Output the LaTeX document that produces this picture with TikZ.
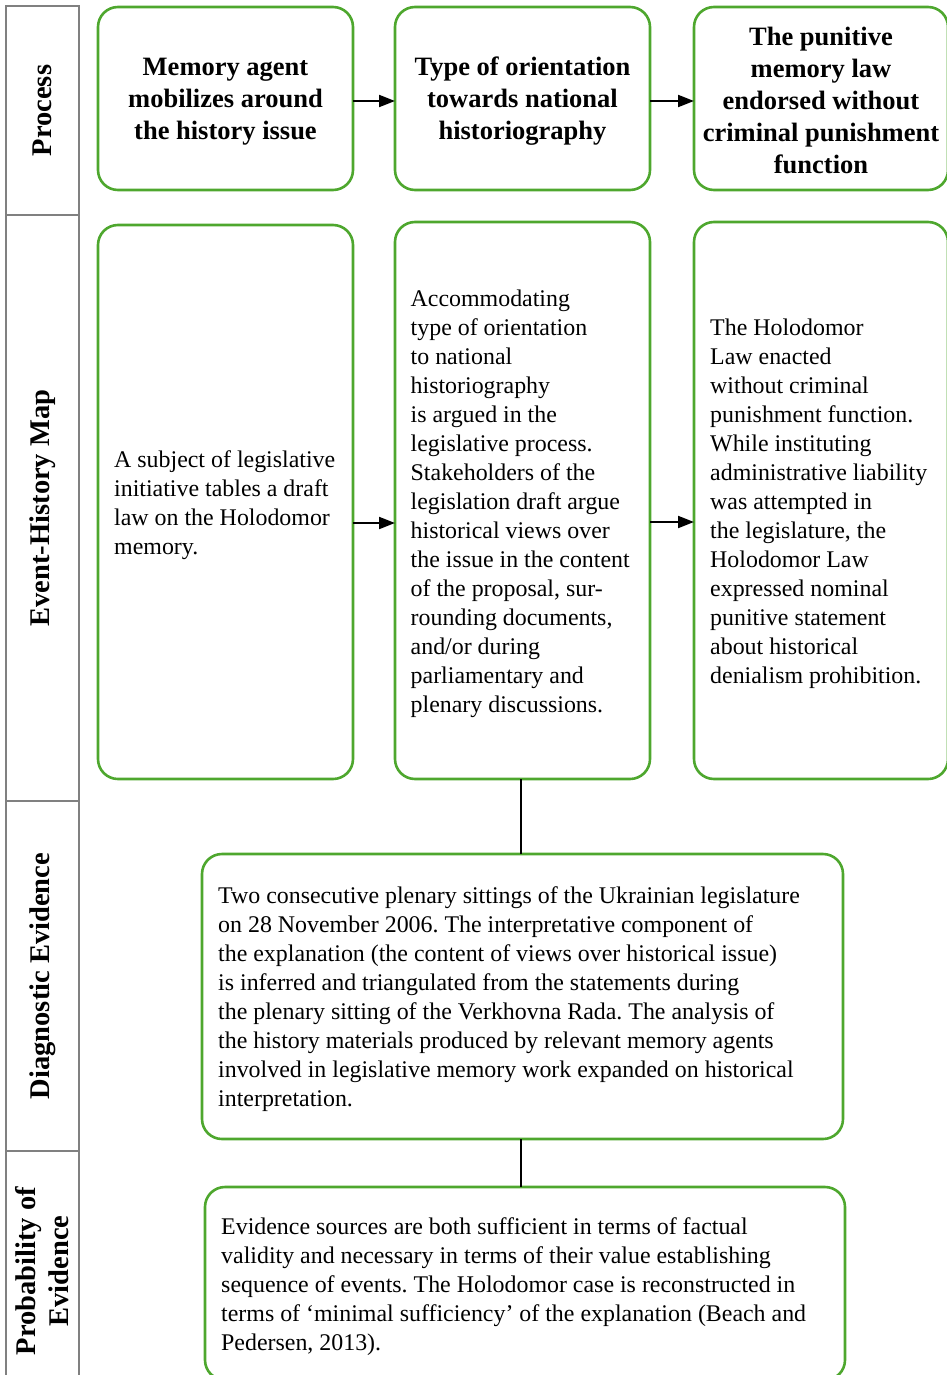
\documentclass[tikz,border=0pt]{standalone}
\usepackage{fontspec}
\setmainfont{Liberation Serif}
\usetikzlibrary{arrows.meta,calc}
\definecolor{boxgreen}{RGB}{78,167,46}
\definecolor{cellgray}{RGB}{128,128,128}
\frenchspacing
\begin{document}
\begin{tikzpicture}[x=1pt,y=-1pt,
  gbox/.style={draw=boxgreen,line width=2.6pt,rounded corners=20pt,inner sep=0pt,outer sep=0pt},
  ptext/.style={align=center,inner sep=0pt,font=\fontsize{26.5}{32}\selectfont\bfseries},
  btext/.style={align=left,inner sep=0pt,anchor=west,font=\fontsize{23.9}{29}\selectfont},
  cell/.style={draw=cellgray,line width=1.8pt,rotate=90,inner sep=0pt,align=center,
    font=\fontsize{28.5}{33}\selectfont\bfseries},
  arr/.style={-{Triangle[length=16pt,width=12pt]},line width=2pt,black},
  link/.style={line width=1.5pt,black}]
\useasboundingbox (0,0) rectangle (946,1375);
% left column
\node[cell,minimum width=209pt,minimum height=73pt] (c1) at (42.5,110.5) {Process};
\node[cell,minimum width=586pt,minimum height=73pt] (c2) at (42.5,508) {Event-History Map};
\node[cell,minimum width=350pt,minimum height=73pt] (c3) at (42.5,976) {Diagnostic Evidence};
\node[cell,minimum width=240pt,minimum height=73pt] (c4) at (42.5,1271) {Probability of\\Evidence};
% process row
\node[gbox,minimum width=255pt,minimum height=183pt] (p1) at (225.5,98.5) {};
\node[gbox,minimum width=255pt,minimum height=183pt] (p2) at (522.5,98.5) {};
\node[gbox,minimum width=254pt,minimum height=183pt] (p3) at (821,98.5) {};
\node[ptext] (pt1) at ([yshift=-3pt]p1.center) {Memory agent\\mobilizes around\\the history issue};
\node[ptext] (pt2) at ([yshift=-3pt]p2.center) {Type of orientation\\towards national\\historiography};
\node[ptext] (pt3) at ([yshift=-1.5pt]p3.center) {The punitive\\memory law\\endorsed without\\criminal punishment\\function};
% event row
\node[gbox,minimum width=255pt,minimum height=554pt] (e1) at (225.5,502) {};
\node[gbox,minimum width=255pt,minimum height=557pt] (e2) at (522.5,500.5) {};
\node[gbox,minimum width=254pt,minimum height=557pt] (e3) at (821,500.5) {};
\node[btext] (t1) at ([xshift=16pt,yshift=-3pt]e1.west) {A subject of legislative\\initiative tables a draft\\law on the Holodomor\\memory.};
\node[btext] (t2) at ([xshift=15.5pt,yshift=-3pt]e2.west) {Accommodating\\type of orientation\\to national\\historiography\\is argued in the\\legislative process.\\Stakeholders of the\\legislation draft argue\\historical views over\\the issue in the content\\of the proposal, sur-\\rounding documents,\\and/or during\\parliamentary and\\plenary discussions.};
\node[btext] (t3) at ([xshift=16pt,yshift=-3pt]e3.west) {The Holodomor\\Law enacted\\without criminal\\punishment function.\\While instituting\\administrative liability\\was attempted in\\the legislature, the\\Holodomor Law\\expressed nominal\\punitive statement\\about historical\\denialism prohibition.};
% diagnostic and probability
\node[gbox,minimum width=641pt,minimum height=285pt] (d) at (522.5,996.5) {};
\node[btext] (td) at ([xshift=16pt,yshift=-3pt]d.west) {Two consecutive plenary sittings of the Ukrainian legislature\\on 28 November 2006. The interpretative component of\\the explanation (the content of views over historical issue)\\is inferred and triangulated from the statements during\\the plenary sitting of the Verkhovna Rada. The analysis of\\the history materials produced by relevant memory agents\\involved in legislative memory work expanded on historical\\interpretation.};
\node[gbox,minimum width=640pt,minimum height=193pt] (pr) at (525,1283.5) {};
\node[btext] (tp) at ([xshift=16pt,yshift=-3pt]pr.west) {Evidence sources are both sufficient in terms of factual\\validity and necessary in terms of their value establishing\\sequence of events. The Holodomor case is reconstructed in\\terms of ‘minimal sufficiency’ of the explanation (Beach and\\Pedersen, 2013).};
% connectors
\draw[arr] ([yshift=-2.5pt]p1.east) -- ([yshift=-2.5pt]p1.east -| p2.west);
\draw[arr] ([yshift=-2.5pt]p2.east) -- ([yshift=-2.5pt]p2.east -| p3.west);
\draw[arr] ([yshift=-21pt]e1.east) -- ([yshift=-21pt]e1.east -| e2.west);
\draw[arr] ([yshift=-21.5pt]e2.east) -- ([yshift=-21.5pt]e2.east -| e3.west);
\draw[link] ([xshift=-1.5pt]e2.south) -- ([xshift=-1.5pt]e2.south |- d.north);
\draw[link] ([xshift=-1.5pt]d.south) -- ([xshift=-1.5pt]d.south |- pr.north);
\end{tikzpicture}
\end{document}
